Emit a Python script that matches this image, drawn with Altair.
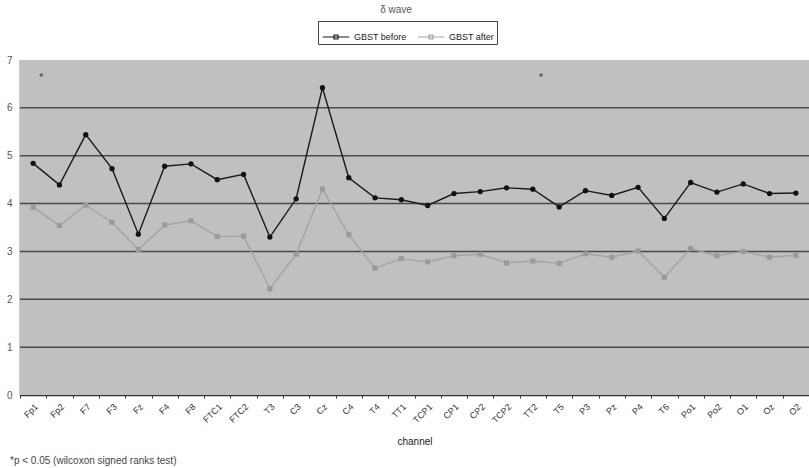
import altair as alt
import pandas as pd

channels = ["Fp1", "Fp2", "F7", "F3", "Fz", "F4", "F8", "FTC1", "FTC2", "T3",
            "C3", "Cz", "C4", "T4", "TT1", "TCP1", "CP1", "CP2", "TCP2", "TT2",
            "T5", "P3", "Pz", "P4", "T6", "Po1", "Po2", "O1", "Oz", "O2"]
before = [4.84, 4.39, 5.44, 4.73, 3.36, 4.78, 4.83, 4.50, 4.61, 3.30,
          4.10, 6.42, 4.54, 4.12, 4.08, 3.96, 4.21, 4.25, 4.33, 4.30,
          3.93, 4.27, 4.17, 4.34, 3.69, 4.44, 4.24, 4.41, 4.21, 4.22]
after = [3.92, 3.54, 3.97, 3.61, 3.04, 3.55, 3.64, 3.31, 3.32, 2.22,
         2.94, 4.30, 3.35, 2.65, 2.85, 2.78, 2.91, 2.94, 2.76, 2.80,
         2.75, 2.95, 2.88, 3.01, 2.46, 3.06, 2.91, 3.00, 2.88, 2.92]
series = ["GBST before", "GBST after"]
sig_channels = ["Fp1", "TT2"]
sig_level = [6.67, 6.67]
grid_values = [1, 2, 3, 4, 5, 6]

rows = []
for c, b, a in zip(channels, before, after):
    rows.append({"channel": c, "series": series[0], "value": b})
    rows.append({"channel": c, "series": series[1], "value": a})
df = pd.DataFrame(rows)
sig_df = pd.DataFrame({"channel": sig_channels, "value": sig_level})
grid_df = pd.DataFrame({"value": grid_values})

xaxis = alt.Axis(labelAngle=-45, labelFontSize=9, labelColor="#333",
                 labelAlign="right", labelBaseline="top",
                 titleFontSize=10, titleFontWeight="normal", titleColor="#222",
                 titlePadding=12, domainColor="#333", domainWidth=1.5,
                 tickBand="extent", tickSize=3, tickColor="#333",
                 labelPadding=4)
xscale = alt.Scale(domain=channels, paddingInner=0, paddingOuter=0)
xenc = alt.X("channel:N", sort=channels, title="channel", scale=xscale, axis=xaxis)
yscale = alt.Scale(domain=[0, 7], nice=False)
yaxis = alt.Axis(values=[0, 1, 2, 3, 4, 5, 6, 7], grid=False, ticks=False,
                 labelFontSize=10, labelColor="#555", labelPadding=8,
                 domainColor="#333", domainWidth=1.5)
yenc = alt.Y("value:Q", scale=yscale, title=None, axis=yaxis)

color_scale = alt.Scale(domain=series, range=["#1a1a1a", "#a3a3a3"])

bg = alt.Chart(grid_df).mark_rect(color="#c0c0c0").encode(
    x=alt.value(0), x2=alt.value(789), y=alt.value(0), y2=alt.value(335))

grid = alt.Chart(grid_df).mark_rule(color="#4a4a4a", strokeWidth=1.5).encode(y=yenc)

lines = alt.Chart(df).mark_line(strokeWidth=1.4).encode(
    x=xenc, y=yenc,
    color=alt.Color("series:N", scale=color_scale, sort=series,
                    legend=alt.Legend(title=None, orient="none", direction="horizontal",
                                      legendX=298, legendY=-39,
                                      symbolType="M-1,0H1M-0.15,-0.15H0.15V0.15H-0.15Z",
                                      symbolSize=700, symbolStrokeWidth=1.2,
                                      labelFontSize=9, labelColor="#222",
                                      labelFontWeight="normal",
                                      strokeColor="#444", fillColor="#ffffff",
                                      padding=2, columnPadding=8, symbolOffset=2)))

pts_before = alt.Chart(df).transform_filter(
    alt.datum.series == series[0]).mark_point(
    filled=True, size=28, opacity=1, shape="circle", color="#111111").encode(x=xenc, y=yenc)
pts_after = alt.Chart(df).transform_filter(
    alt.datum.series == series[1]).mark_point(
    filled=True, size=26, opacity=1, shape="square", color="#9a9a9a").encode(x=xenc, y=yenc)

stars = alt.Chart(sig_df).mark_text(text="*", fontSize=10, color="#333", dx=8, dy=2).encode(
    x=xenc, y=yenc)

title_txt = alt.Chart(sig_df.head(1)).mark_text(
    text="δ wave", fontSize=10, color="#555", baseline="middle").encode(
    x=alt.value(376), y=alt.value(-50))

foot = alt.Chart(sig_df.head(1)).mark_text(
    text="*p < 0.05 (wilcoxon signed ranks test)", fontSize=10, color="#444",
    align="left", baseline="top").encode(
    x=alt.value(-10), y=alt.value(396))

chart = alt.layer(bg, grid, lines, pts_before, pts_after, stars, title_txt, foot).properties(
    width=789, height=335,
    autosize=alt.AutoSizeParams(type="none"),
    padding={"left": 20, "top": 60, "right": 0, "bottom": 73},
    background="white",
).configure_view(stroke=None).configure(font="Liberation Sans")

chart.save("out.html", embed_options={"renderer": "svg", "actions": False})
